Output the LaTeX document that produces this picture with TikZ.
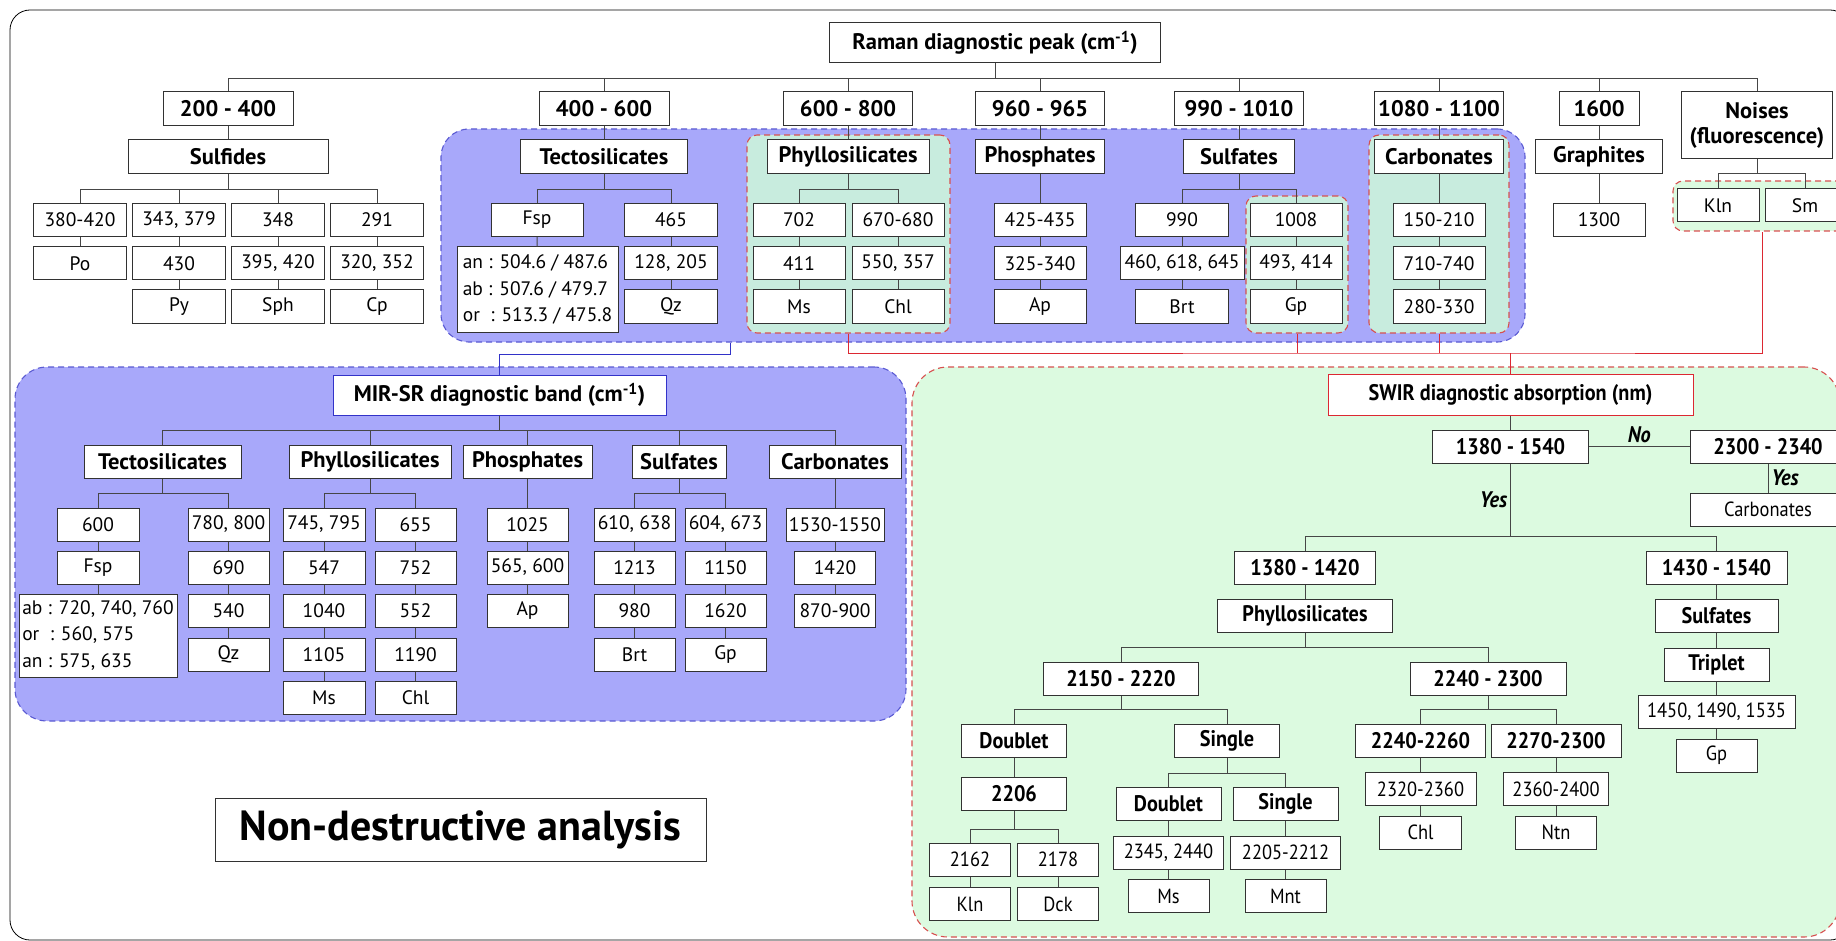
\documentclass[tikz,border=0pt]{standalone}
\usepackage{fontspec}
\setmainfont{PT Sans}
\newfontfamily\condfont[FakeStretch=0.9]{PT Sans}
\newcommand{\txtreg}{\fontsize{19.5}{23}\selectfont}
\newcommand{\txtbold}{\fontsize{22.5}{25}\selectfont\bfseries}
\newcommand{\txtcreg}{\fontsize{20.5}{24}\condfont}
\newcommand{\txtcbold}{\fontsize{22.5}{26}\condfont\bfseries}
\newcommand{\txtlbl}{\fontsize{22.5}{26}\condfont\bfseries\itshape}
\newcommand{\txtbig}{\fontsize{42}{46}\selectfont\bfseries}
\definecolor{boxgray}{RGB}{50,50,50}
\definecolor{linegray}{RGB}{70,70,70}
\definecolor{regblue}{RGB}{168,168,250}
\definecolor{dashblue}{RGB}{90,90,210}
\definecolor{reggreen}{RGB}{200,236,222}
\definecolor{lightgreen}{RGB}{220,250,224}
\definecolor{dashred}{RGB}{215,80,80}
\definecolor{linered}{RGB}{220,40,50}
\definecolor{lineblue}{RGB}{50,50,200}
\begin{document}
\begin{tikzpicture}[x=1pt,y=-1pt,
  box/.style={draw=boxgray,fill=white,line width=1pt,inner sep=0pt,minimum height=33,font=\txtreg},
  hbox/.style={box,font=\txtbold},
  sbox/.style={box,font=\txtcreg},
  shbox/.style={box,font=\txtcbold},
  link/.style={draw=linegray,line width=1pt},
  redline/.style={draw=linered,line width=1pt},
  blueline/.style={draw=lineblue,line width=1pt},
  lbl/.style={font=\txtlbl,inner sep=3pt},
  bluereg/.style={draw=dashblue,fill=regblue,line width=1.1pt,dash pattern=on 6pt off 4pt,inner sep=0pt},
  greenreg/.style={draw=dashred,fill=reggreen,line width=1.1pt,dash pattern=on 6pt off 4pt,inner sep=0pt,rounded corners=10pt},
  swirreg/.style={draw=dashred,fill=lightgreen,line width=1.1pt,dash pattern=on 6pt off 4pt,inner sep=0pt}]
  \useasboundingbox (0,0) rectangle (1836,941);
  \draw[line width=0.8pt,rounded corners=20pt] (10,10) rectangle (1850,940);

  %Zonas
  \node[bluereg,rounded corners=28pt,minimum width=1084,minimum height=213] (ramanreg) at (983,235.5) {};
  \node[greenreg,minimum width=203,minimum height=198] (phyllreg) at (848.5,234) {};
  \node[greenreg,minimum width=102,minimum height=137] (gpreg) at (1297,264.5) {};
  \node[greenreg,minimum width=140,minimum height=198] (carbreg) at (1439,234) {};
  \node[greenreg,fill=lightgreen,minimum width=178,minimum height=50] (klnreg) at (1762,206) {};
  \node[bluereg,rounded corners=32pt,minimum width=891,minimum height=354] (mirreg) at (460.5,544) {};
  \node[swirreg,rounded corners=36pt,minimum width=928,minimum height=570] (swirreg) at (1376,652) {};

  %Raman
  \node[hbox,minimum width=331,minimum height=40] (raman) at (995,43) {Raman diagnostic peak (cm\textsuperscript{-1})};
  \node[hbox,minimum width=130,minimum height=34] (r200) at (228,109) {200 - 400};
  \node[hbox,minimum width=130,minimum height=34] (r400) at (604,109) {400 - 600};
  \node[hbox,minimum width=129,minimum height=34] (r600) at (848,109) {600 - 800};
  \node[hbox,minimum width=129,minimum height=34] (r960) at (1040,109) {960 - 965};
  \node[hbox,minimum width=129,minimum height=34] (r990) at (1239,109) {990 - 1010};
  \node[hbox,minimum width=129,minimum height=34] (r1080) at (1439,109) {1080 - 1100};
  \node[hbox,minimum width=80,minimum height=34] (r1600) at (1599,109) {1600};
  \node[hbox,minimum width=151,minimum height=67,align=center] (noise) at (1757,125.5) {Noises\\(fluorescence)};

  \node[hbox,minimum width=200,minimum height=34] (sulfi) at (228,157) {Sulfides};
  \node[hbox,minimum width=167,minimum height=34] (tecto) at (604,157) {Tectosilicates};
  \node[hbox,minimum width=162,minimum height=34] (phyllo) at (848,157) {Phyllosilicates};
  \node[hbox,minimum width=129,minimum height=34] (phos) at (1040,157) {Phosphates};
  \node[hbox,minimum width=111,minimum height=34] (sulfa) at (1239,157) {Sulfates};
  \node[hbox,minimum width=129,minimum height=34] (carb) at (1439,157) {Carbonates};
  \node[hbox,minimum width=127,minimum height=34] (graph) at (1599,157) {Graphites};

  \node[box,minimum width=93] (s1a) at (80,220) {380-420};
  \node[box,minimum width=93] (s1b) at (80,263.5) {Po};
  \node[box,minimum width=93] (s2a) at (179,220) {343, 379};
  \node[box,minimum width=93] (s2b) at (179,263.5) {430};
  \node[box,minimum width=93] (s2c) at (179,306.5) {Py};
  \node[box,minimum width=93] (s3a) at (278,220) {348};
  \node[box,minimum width=93] (s3b) at (278,263.5) {395, 420};
  \node[box,minimum width=93] (s3c) at (278,306.5) {Sph};
  \node[box,minimum width=93] (s4a) at (377,220) {291};
  \node[box,minimum width=93] (s4b) at (377,263.5) {320, 352};
  \node[box,minimum width=93] (s4c) at (377,306.5) {Cp};

  \node[box,minimum width=92] (fsp) at (537,220) {Fsp};
  \node[box,minimum width=161,minimum height=85,align=left,font={\fontsize{19.5}{26.5}\selectfont}] (fspv) at (537.5,289.5) {an : 504.6 / 487.6\\ab : 507.6 / 479.7\\or\ \ : 513.3 / 475.8};
  \node[box,minimum width=93] (q1) at (671,220) {465};
  \node[box,minimum width=93] (q2) at (671,263.5) {128, 205};
  \node[box,minimum width=93] (q3) at (671,306.5) {Qz};

  \node[box,minimum width=92] (p1a) at (799,220) {702};
  \node[box,minimum width=92] (p1b) at (799,263.5) {411};
  \node[box,minimum width=92] (p1c) at (799,306.5) {Ms};
  \node[box,minimum width=92] (p2a) at (898,220) {670-680};
  \node[box,minimum width=92] (p2b) at (898,263.5) {550, 357};
  \node[box,minimum width=92] (p2c) at (898,306.5) {Chl};

  \node[box,minimum width=92] (ph1) at (1040,220) {425-435};
  \node[box,minimum width=92] (ph2) at (1040,263.5) {325-340};
  \node[box,minimum width=92] (ph3) at (1040,306.5) {Ap};

  \node[box,minimum width=93] (b1) at (1182,220) {990};
  \node[box,minimum width=124] (b2) at (1182,263.5) {460, 618, 645};
  \node[box,minimum width=93] (b3) at (1182,306.5) {Brt};
  \node[box,minimum width=92] (g1) at (1296,220) {1008};
  \node[box,minimum width=92] (g2) at (1296,263.5) {493, 414};
  \node[box,minimum width=92] (g3) at (1296,306.5) {Gp};

  \node[box,minimum width=92] (c1) at (1439,220) {150-210};
  \node[box,minimum width=92] (c2) at (1439,263.5) {710-740};
  \node[box,minimum width=92] (c3) at (1439,306.5) {280-330};

  \node[box,minimum width=92] (gr1) at (1599,220) {1300};
  \node[box,minimum width=82] (kln) at (1718,205.5) {Kln};
  \node[box,minimum width=80] (sm) at (1805,205.5) {Sm};

  %MIR-SR
  \node[hbox,draw=lineblue,minimum width=333,minimum height=40] (mir) at (499.5,395) {MIR-SR diagnostic band (cm\textsuperscript{-1})};
  \node[hbox,minimum width=157] (mtecto) at (162.5,461.5) {Tectosilicates};
  \node[hbox,minimum width=162] (mphyllo) at (370,461.5) {Phyllosilicates};
  \node[hbox,minimum width=129] (mphos) at (527.5,461.5) {Phosphates};
  \node[hbox,minimum width=94] (msulf) at (679,461.5) {Sulfates};
  \node[hbox,minimum width=132] (mcarb) at (835,461.5) {Carbonates};

  \node[box,minimum width=82] (mt1a) at (98,524.5) {600};
  \node[box,minimum width=82] (mt1b) at (98,567.5) {Fsp};
  \node[box,minimum width=158,minimum height=83,align=left,font={\fontsize{19.5}{26.5}\selectfont}] (mt1c) at (98,635.5) {ab : 720, 740, 760\\or\ \ : 560, 575\\an : 575, 635};
  \node[box,minimum width=81] (mt2a) at (228.5,524.5) {780, 800};
  \node[box,minimum width=81] (mt2b) at (228.5,567.5) {690};
  \node[box,minimum width=81] (mt2c) at (228.5,610.5) {540};
  \node[box,minimum width=81] (mt2d) at (228.5,654.5) {Qz};

  \node[box,minimum width=82] (mp1a) at (324,524.5) {745, 795};
  \node[box,minimum width=82] (mp1b) at (324,567.5) {547};
  \node[box,minimum width=82] (mp1c) at (324,610.5) {1040};
  \node[box,minimum width=82] (mp1d) at (324,654.5) {1105};
  \node[box,minimum width=82] (mp1e) at (324,698) {Ms};
  \node[box,minimum width=81] (mp2a) at (415.5,524.5) {655};
  \node[box,minimum width=81] (mp2b) at (415.5,567.5) {752};
  \node[box,minimum width=81] (mp2c) at (415.5,610.5) {552};
  \node[box,minimum width=81] (mp2d) at (415.5,654.5) {1190};
  \node[box,minimum width=81] (mp2e) at (415.5,698) {Chl};

  \node[box,minimum width=81] (mph1) at (527.5,524.5) {1025};
  \node[box,minimum width=81] (mph2) at (527.5,567.5) {565, 600};
  \node[box,minimum width=81] (mph3) at (527.5,610.5) {Ap};

  \node[box,minimum width=81] (ms1a) at (634.5,524.5) {610, 638};
  \node[box,minimum width=81] (ms1b) at (634.5,567.5) {1213};
  \node[box,minimum width=81] (ms1c) at (634.5,610.5) {980};
  \node[box,minimum width=81] (ms1d) at (634.5,654.5) {Brt};
  \node[box,minimum width=81] (ms2a) at (725.5,524.5) {604, 673};
  \node[box,minimum width=81] (ms2b) at (725.5,567.5) {1150};
  \node[box,minimum width=81] (ms2c) at (725.5,610.5) {1620};
  \node[box,minimum width=81] (ms2d) at (725.5,654.5) {Gp};

  \node[box,minimum width=98] (mc1) at (835,524.5) {1530-1550};
  \node[box,minimum width=81] (mc2) at (835,567.5) {1420};
  \node[box,minimum width=81] (mc3) at (835,610.5) {870-900};

  %SWIR
  \node[shbox,draw=linered,minimum width=365,minimum height=41] (swir) at (1510.5,394.5) {SWIR diagnostic absorption (nm)};
  \node[shbox,minimum width=156] (s1380) at (1510.5,446.5) {1380 - 1540};
  \node[shbox,minimum width=156] (s2300) at (1768,446.5) {2300 - 2340};
  \node[sbox,minimum width=156] (scarb) at (1768,509.5) {Carbonates};
  \node[shbox,minimum width=141] (s1420) at (1305,567.5) {1380 - 1420};
  \node[shbox,minimum width=141] (s1430) at (1716.5,567.5) {1430 - 1540};
  \node[shbox,minimum width=175] (sphyl) at (1305,615.5) {Phyllosilicates};
  \node[shbox,minimum width=123] (ssulf) at (1716.5,615.5) {Sulfates};
  \node[shbox,minimum width=105] (strip) at (1716.5,664.5) {Triplet};
  \node[sbox,minimum width=157] (s1450) at (1716.5,712) {1450, 1490, 1535};
  \node[sbox,minimum width=81] (sgp) at (1716.5,755.5) {Gp};

  \node[shbox,minimum width=155] (s2150) at (1121,678.5) {2150 - 2220};
  \node[shbox,minimum width=156] (s2240) at (1488,678.5) {2240 - 2300};
  \node[shbox,minimum width=105] (sdbl) at (1014,741) {Doublet};
  \node[shbox,minimum width=105] (ssgl) at (1227,741) {Single};
  \node[shbox,minimum width=105] (s2206) at (1014,793.5) {2206};
  \node[sbox,minimum width=81] (s2162) at (970,859.5) {2162};
  \node[sbox,minimum width=81] (s2178) at (1058,859.5) {2178};
  \node[sbox,minimum width=81] (skln) at (970,904) {Kln};
  \node[sbox,minimum width=81] (sdck) at (1058,904) {Dck};
  \node[shbox,minimum width=105] (sdbl2) at (1168.5,804) {Doublet};
  \node[shbox,minimum width=105] (ssgl2) at (1285.5,804) {Single};
  \node[sbox,minimum width=110] (s2345) at (1168.5,852.5) {2345, 2440};
  \node[sbox,minimum width=110] (s2205) at (1285.5,852.5) {2205-2212};
  \node[sbox,minimum width=81] (sms) at (1168.5,896) {Ms};
  \node[sbox,minimum width=81] (smnt) at (1285.5,896) {Mnt};
  \node[shbox,minimum width=130] (s2260) at (1420.5,741) {2240-2260};
  \node[shbox,minimum width=130] (s2300b) at (1556,741) {2270-2300};
  \node[sbox,minimum width=111] (s2320) at (1420.5,789) {2320-2360};
  \node[sbox,minimum width=82] (schl) at (1420.5,832.5) {Chl};
  \node[sbox,minimum width=105] (s2360) at (1556,789) {2360-2400};
  \node[sbox,minimum width=81] (sntn) at (1556,832.5) {Ntn};

  \node[box,font=\txtbig,minimum width=491,minimum height=63] (nda) at (460.5,829.5) {Non-destructive analysis};

  %Arcos Raman
  \draw[link] (raman.south) -- ++(0,15) -| (r200.north);
  \draw[link] (raman.south) -- ++(0,15) -| (r400.north);
  \draw[link] (raman.south) -- ++(0,15) -| (r600.north);
  \draw[link] (raman.south) -- ++(0,15) -| (r960.north);
  \draw[link] (raman.south) -- ++(0,15) -| (r990.north);
  \draw[link] (raman.south) -- ++(0,15) -| (r1080.north);
  \draw[link] (raman.south) -- ++(0,15) -| (r1600.north);
  \draw[link] (raman.south) -- ++(0,15) -| (noise.north);
  \draw[link] (r200)--(sulfi);
  \draw[link] (r400)--(tecto);
  \draw[link] (r600)--(phyllo);
  \draw[link] (r960)--(phos)--(ph1)--(ph2)--(ph3);
  \draw[link] (r990)--(sulfa);
  \draw[link] (r1080)--(carb)--(c1)--(c2)--(c3);
  \draw[link] (r1600)--(graph)--(gr1);
  \draw[link] (sulfi.south) -- ++(0,15) -| (s1a.north);
  \draw[link] (sulfi.south) -- ++(0,15) -| (s2a.north);
  \draw[link] (sulfi.south) -- ++(0,15) -| (s3a.north);
  \draw[link] (sulfi.south) -- ++(0,15) -| (s4a.north);
  \draw[link] (s1a)--(s1b);
  \draw[link] (s2a)--(s2b)--(s2c);
  \draw[link] (s3a)--(s3b)--(s3c);
  \draw[link] (s4a)--(s4b)--(s4c);
  \draw[link] (tecto.south) -- ++(0,15) -| (fsp.north);
  \draw[link] (tecto.south) -- ++(0,15) -| (q1.north);
  \draw[link] (fsp)--(fspv);
  \draw[link] (q1)--(q2)--(q3);
  \draw[link] (phyllo.south) -- ++(0,15) -| (p1a.north);
  \draw[link] (phyllo.south) -- ++(0,15) -| (p2a.north);
  \draw[link] (p1a)--(p1b)--(p1c);
  \draw[link] (p2a)--(p2b)--(p2c);
  \draw[link] (sulfa.south) -- ++(0,15) -| (b1.north);
  \draw[link] (sulfa.south) -- ++(0,15) -| (g1.north);
  \draw[link] (b1)--(b2)--(b3);
  \draw[link] (g1)--(g2)--(g3);
  \draw[link] (noise.south) -- ++(0,14) -| (kln.north);
  \draw[link] (noise.south) -- ++(0,14) -| (sm.north);

  %Arcos MIR-SR
  \draw[blueline] ([xshift=-253pt]ramanreg.south) -- ++(0,12) -| (mir.north);
  \draw[link] (mir.south) -- ++(0,15) -| (mtecto.north);
  \draw[link] (mir.south) -- ++(0,15) -| (mphyllo.north);
  \draw[link] (mir.south) -- ++(0,15) -| (mphos.north);
  \draw[link] (mir.south) -- ++(0,15) -| (msulf.north);
  \draw[link] (mir.south) -- ++(0,15) -| (mcarb.north);
  \draw[link] (mtecto.south) -- ++(0,15) -| (mt1a.north);
  \draw[link] (mtecto.south) -- ++(0,15) -| (mt2a.north);
  \draw[link] (mt1a)--(mt1b)--(mt1c);
  \draw[link] (mt2a)--(mt2b)--(mt2c)--(mt2d);
  \draw[link] (mphyllo.south) -- ++(0,15) -| (mp1a.north);
  \draw[link] (mphyllo.south) -- ++(0,15) -| (mp2a.north);
  \draw[link] (mp1a)--(mp1b)--(mp1c)--(mp1d)--(mp1e);
  \draw[link] (mp2a)--(mp2b)--(mp2c)--(mp2d)--(mp2e);
  \draw[link] (mphos)--(mph1)--(mph2)--(mph3);
  \draw[link] (msulf.south) -- ++(0,15) -| (ms1a.north);
  \draw[link] (msulf.south) -- ++(0,15) -| (ms2a.north);
  \draw[link] (ms1a)--(ms1b)--(ms1c)--(ms1d);
  \draw[link] (ms2a)--(ms2b)--(ms2c)--(ms2d);
  \draw[link] (mcarb)--(mc1)--(mc2)--(mc3);

  %Arcos SWIR
  \coordinate (redbus) at (1510.5,353);
  \draw[redline] (phyllreg.south) |- (redbus) -| (klnreg.south);
  \draw[redline] (gpreg.south) -- (gpreg.south |- redbus);
  \draw[redline] (carbreg.south) -- (carbreg.south |- redbus);
  \draw[redline] (redbus) -- (swir.north);
  \draw[link] (swir)--(s1380);
  \draw[link] (s1380) -- node[lbl,above] {No} (s2300);
  \draw[link] (s2300) -- node[lbl,right] {Yes} (scarb);
  \draw[link] (s1380.south) -- node[lbl,left] {Yes} ++(0,73) -| (s1420.north);
  \draw[link] (s1380.south) -- ++(0,73) -| (s1430.north);
  \draw[link] (s1420)--(sphyl);
  \draw[link] (s1430)--(ssulf)--(strip)--(s1450)--(sgp);
  \draw[link] (sphyl.south) -- ++(0,15) -| (s2150.north);
  \draw[link] (sphyl.south) -- ++(0,15) -| (s2240.north);
  \draw[link] (s2150.south) -- ++(0,14) -| (sdbl.north);
  \draw[link] (s2150.south) -- ++(0,14) -| (ssgl.north);
  \draw[link] (sdbl)--(s2206);
  \draw[link] (s2206.south) -- ++(0,19) -| (s2162.north);
  \draw[link] (s2206.south) -- ++(0,19) -| (s2178.north);
  \draw[link] (s2162)--(skln);
  \draw[link] (s2178)--(sdck);
  \draw[link] (ssgl.south) -- ++(0,15) -| (sdbl2.north);
  \draw[link] (ssgl.south) -- ++(0,15) -| (ssgl2.north);
  \draw[link] (sdbl2)--(s2345)--(sms);
  \draw[link] (ssgl2)--(s2205)--(smnt);
  \draw[link] (s2240.south) -- ++(0,14) -| (s2260.north);
  \draw[link] (s2240.south) -- ++(0,14) -| (s2300b.north);
  \draw[link] (s2260)--(s2320)--(schl);
  \draw[link] (s2300b)--(s2360)--(sntn);
\end{tikzpicture}
\end{document}
